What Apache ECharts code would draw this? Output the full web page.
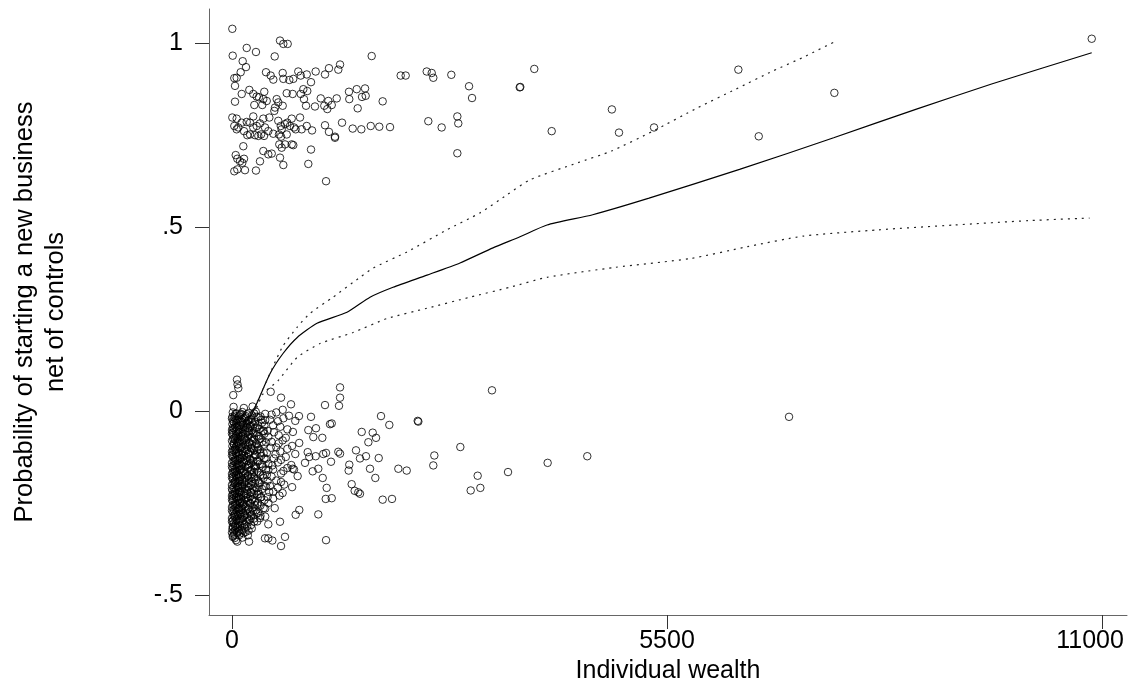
<!DOCTYPE html>
<html>
<head>
<meta charset="utf-8">
<script src="https://cdn.jsdelivr.net/npm/echarts@6/dist/echarts.min.js"></script>
<style>
html,body{margin:0;padding:0;background:#fff;}
#chart{width:1129px;height:681px;}
</style>
</head>
<body>
<div id="chart"></div>
<script>
// ---- Data ----
const xTickValues = [0, 5500, 11000];
const xTickLabels = ['0', '5500', '11000'];
const yTickValues = [-0.5, 0, 0.5, 1];
const yTickLabels = ['-.5', '0', '.5', '1'];
const xTitle = 'Individual wealth';
const yTitle = 'Probability of starting a new business\nnet of controls';

// Upper group of observations (starters): [wealth, probability net of controls]
const upperObs = [
[4,1.038],[607,1.006],[649,0.997],[704,0.997],[9,0.965],[186,0.986],[303,0.975],[540,0.963],[1766,0.964],[135,0.950],
[177,0.934],[110,0.920],[29,0.904],[59,0.905],[430,0.920],[489,0.911],[522,0.900],[641,0.918],[649,0.902],[725,0.899],
[775,0.902],[838,0.922],[869,0.911],[945,0.914],[999,0.893],[1058,0.922],[1176,0.914],[1226,0.931],[1344,0.927],[1366,0.941],
[2133,0.911],[2196,0.911],[2462,0.922],[2525,0.918],[2545,0.905],[2773,0.913],[2997,0.882],[3035,0.850],[38,0.883],[123,0.861],
[219,0.872],[269,0.861],[312,0.854],[341,0.852],[396,0.847],[439,0.842],[408,0.867],[38,0.840],[282,0.831],[383,0.831],
[565,0.847],[585,0.838],[544,0.824],[535,0.815],[641,0.829],[692,0.863],[767,0.861],[869,0.861],[902,0.874],[952,0.869],
[910,0.847],[936,0.829],[1049,0.827],[1122,0.849],[1167,0.829],[1205,0.820],[1218,0.842],[1261,0.831],[1324,0.849],[1479,0.867],
[1483,0.847],[1577,0.874],[1589,0.822],[1644,0.853],[1690,0.856],[1682,0.876],[1905,0.841],[4,0.797],[59,0.794],[29,0.774],
[59,0.765],[80,0.770],[123,0.783],[186,0.785],[228,0.783],[269,0.800],[152,0.760],[193,0.749],[228,0.751],[269,0.770],
[312,0.774],[354,0.781],[396,0.794],[291,0.749],[333,0.747],[367,0.751],[405,0.747],[472,0.797],[417,0.770],[459,0.760],
[522,0.753],[585,0.788],[616,0.774],[628,0.765],[670,0.779],[699,0.783],[733,0.774],[755,0.794],[860,0.797],[784,0.770],
[805,0.765],[881,0.765],[945,0.774],[1012,0.762],[594,0.751],[620,0.745],[692,0.751],[143,0.719],[598,0.724],[628,0.715],
[670,0.724],[755,0.724],[775,0.722],[999,0.710],[1176,0.776],[1226,0.758],[1302,0.745],[1302,0.742],[1391,0.783],[1526,0.767],
[1635,0.765],[1754,0.774],[1862,0.772],[1998,0.771],[2482,0.787],[2651,0.770],[2849,0.800],[2861,0.781],[2849,0.700],[47,0.695],
[67,0.685],[101,0.678],[152,0.685],[130,0.674],[29,0.651],[67,0.656],[164,0.654],[303,0.653],[354,0.678],[396,0.706],
[459,0.697],[502,0.699],[607,0.688],[649,0.668],[965,0.671],[1189,0.624],[3638,0.879],[3645,0.880],[3822,0.929],[4042,0.760],
[4803,0.819],[4893,0.756],[5336,0.770],[6402,0.927],[6660,0.746],[7616,0.864],[10870,1.011]
];

// Lower group, sparse part
const lowerSparse = [
[63,0.085],[70,0.072],[80,0.062],[16,0.043],[1366,0.064],[1366,0.036],[1353,0.014],[489,0.052],[620,0.036],[746,0.018],
[641,0.003],[1176,0.016],[847,-0.014],[999,-0.016],[1884,-0.014],[1989,-0.038],[2348,-0.027],[2356,-0.029],[1239,-0.036],[1261,-0.034],
[1062,-0.047],[965,-0.052],[1640,-0.057],[1779,-0.059],[1724,-0.085],[1821,-0.073],[1028,-0.071],[1142,-0.073],[2887,-0.098],[2558,-0.121],
[2545,-0.148],[1568,-0.107],[1618,-0.129],[1694,-0.123],[1855,-0.128],[2103,-0.157],[2209,-0.162],[1745,-0.157],[1812,-0.182],[1483,-0.146],
[1475,-0.162],[1252,-0.138],[1154,-0.117],[1189,-0.114],[1344,-0.111],[1366,-0.116],[1058,-0.123],[957,-0.112],[977,-0.125],[923,-0.141],
[1020,-0.164],[1091,-0.157],[1147,-0.182],[1197,-0.209],[1261,-0.237],[1185,-0.239],[1513,-0.199],[1551,-0.217],[1597,-0.221],[1618,-0.225],
[1905,-0.241],[2023,-0.239],[1091,-0.281],[1189,-0.351],[851,-0.269],[805,-0.282],[670,-0.342],[620,-0.367],[607,-0.301],[767,-0.157],
[784,-0.159],[510,-0.352],[459,-0.346],[417,-0.346],[9,-0.342],[51,-0.351],[67,-0.355],[215,-0.355],[459,-0.308],[354,-0.291],
[9,-0.314],[3287,0.056],[3106,-0.176],[3490,-0.166],[3991,-0.141],[4492,-0.123],[3018,-0.216],[3140,-0.209],[7043,-0.016]
];

// Lower group, dense core near zero wealth (estimated from the solid mass)
const lowerDense = [
[20,0.011],[150,0.008],[260,0.012],
[10,-0.004],[60,-0.007],[130,-0.003],[210,-0.006],[300,-0.002],[420,-0.008],[560,-0.004],
[0,-0.021],[30,-0.018],[80,-0.023],[150,-0.019],[240,-0.022],[330,-0.017],[480,-0.024],[650,-0.020],
[5,-0.036],[55,-0.033],[110,-0.038],[190,-0.034],[270,-0.037],[380,-0.032],[520,-0.039],
[0,-0.052],[25,-0.048],[95,-0.051],[170,-0.047],[250,-0.053],[350,-0.049],[450,-0.054],[700,-0.050],
[10,-0.066],[70,-0.063],[140,-0.068],[220,-0.064],[310,-0.067],[410,-0.062],[590,-0.066],
[0,-0.081],[40,-0.078],[100,-0.083],[180,-0.079],[260,-0.082],[340,-0.077],[500,-0.084],[640,-0.080],
[5,-0.096],[60,-0.093],[130,-0.098],[200,-0.094],[290,-0.097],[400,-0.092],[560,-0.099],[760,-0.095],
[0,-0.111],[30,-0.108],[85,-0.113],[160,-0.109],[230,-0.112],[320,-0.107],[440,-0.114],[610,-0.110],
[15,-0.126],[70,-0.123],[120,-0.128],[190,-0.124],[270,-0.127],[370,-0.122],[530,-0.129],[680,-0.125],
[0,-0.141],[35,-0.138],[95,-0.143],[150,-0.139],[240,-0.142],[330,-0.137],[460,-0.144],[580,-0.140],
[8,-0.156],[60,-0.153],[120,-0.158],[200,-0.154],[290,-0.157],[390,-0.152],[520,-0.159],[700,-0.155],
[0,-0.171],[30,-0.168],[80,-0.173],[170,-0.169],[250,-0.172],[340,-0.167],[440,-0.174],[620,-0.170],
[12,-0.186],[65,-0.183],[130,-0.188],[210,-0.184],[300,-0.187],[400,-0.182],[560,-0.189],
[0,-0.201],[40,-0.198],[100,-0.203],[160,-0.199],[240,-0.202],[350,-0.197],[480,-0.204],[660,-0.200],
[5,-0.216],[55,-0.213],[120,-0.218],[190,-0.214],[280,-0.217],[380,-0.212],[520,-0.219],
[0,-0.231],[25,-0.228],[85,-0.233],[150,-0.229],[230,-0.232],[320,-0.227],[450,-0.234],[600,-0.230],
[10,-0.246],[70,-0.243],[130,-0.248],[200,-0.244],[290,-0.247],[410,-0.242],
[0,-0.261],[35,-0.258],[95,-0.263],[170,-0.259],[260,-0.262],[360,-0.257],[540,-0.264],
[15,-0.276],[60,-0.273],[140,-0.278],[230,-0.274],[330,-0.277],
[0,-0.291],[40,-0.288],[110,-0.293],[190,-0.289],[280,-0.292],[420,-0.287],
[20,-0.306],[80,-0.303],[160,-0.308],
[5,-0.321],[60,-0.318],[130,-0.323],[250,-0.319],
[30,-0.336],[100,-0.333],[200,-0.338],
[35,-0.013],[100,-0.011],[175,-0.014],[255,-0.012],[360,-0.015],[500,-0.010],[720,-0.013],
[15,-0.028],[65,-0.026],[120,-0.029],[205,-0.027],[290,-0.030],[420,-0.025],[580,-0.028],[800,-0.027],
[40,-0.043],[85,-0.041],[145,-0.044],[225,-0.042],[310,-0.045],[410,-0.040],[610,-0.043],
[15,-0.058],[55,-0.056],[120,-0.059],[195,-0.057],[285,-0.060],[390,-0.055],[530,-0.058],[770,-0.057],
[30,-0.073],[95,-0.071],[165,-0.074],[245,-0.072],[360,-0.075],[460,-0.070],[680,-0.073],
[20,-0.088],[70,-0.086],[140,-0.089],[220,-0.087],[310,-0.090],[430,-0.085],[590,-0.088],[850,-0.087],
[40,-0.103],[100,-0.101],[170,-0.104],[250,-0.102],[350,-0.105],[490,-0.100],[700,-0.103],
[15,-0.118],[55,-0.116],[130,-0.119],[205,-0.117],[290,-0.120],[400,-0.115],[550,-0.118],[800,-0.117],
[45,-0.133],[95,-0.131],[160,-0.134],[230,-0.132],[320,-0.135],[430,-0.130],[620,-0.133],
[20,-0.148],[70,-0.146],[125,-0.149],[200,-0.147],[280,-0.150],[380,-0.145],[510,-0.148],[750,-0.147],
[40,-0.163],[100,-0.161],[150,-0.164],[230,-0.162],[320,-0.165],[460,-0.160],[650,-0.163],
[15,-0.178],[55,-0.176],[110,-0.179],[200,-0.177],[280,-0.180],[390,-0.175],[500,-0.178],[830,-0.177],
[35,-0.193],[90,-0.191],[160,-0.194],[250,-0.192],[340,-0.195],[450,-0.190],[620,-0.193],
[20,-0.208],[75,-0.206],[130,-0.209],[210,-0.207],[310,-0.210],[430,-0.205],[580,-0.208],[760,-0.207],
[40,-0.223],[95,-0.221],[160,-0.224],[240,-0.222],[340,-0.225],[470,-0.220],[640,-0.223],
[15,-0.238],[55,-0.236],[115,-0.239],[180,-0.237],[260,-0.240],[360,-0.235],[520,-0.238],
[45,-0.253],[105,-0.251],[150,-0.254],[230,-0.252],[320,-0.255],[460,-0.250],
[20,-0.268],[75,-0.266],[125,-0.269],[200,-0.267],[300,-0.270],[420,-0.265],
[30,-0.283],[85,-0.281],[160,-0.284],[250,-0.282],[360,-0.285],
[10,-0.298],[60,-0.296],[135,-0.299],[220,-0.297],[320,-0.300],
[40,-0.313],[105,-0.311],[190,-0.314],
[20,-0.328],[85,-0.326],[170,-0.329],
[45,-0.008],[115,-0.008],[190,-0.009],[280,-0.007],
[5,-0.016],[90,-0.015],[165,-0.017],[310,-0.016],
[50,-0.024],[130,-0.023],[215,-0.025],[370,-0.024],
[25,-0.031],[100,-0.030],[180,-0.032],[250,-0.031],
[70,-0.039],[140,-0.038],[235,-0.040],[330,-0.039],
[10,-0.046],[60,-0.045],[200,-0.047],[290,-0.046],
[45,-0.054],[135,-0.053],[215,-0.055],[400,-0.054],
[0,-0.061],[85,-0.060],[160,-0.062],[265,-0.061],
[50,-0.069],[115,-0.068],[205,-0.070],[340,-0.069],
[15,-0.076],[75,-0.075],[150,-0.077],[280,-0.076],
[60,-0.084],[125,-0.083],[215,-0.085],[380,-0.084],
[25,-0.091],[90,-0.090],[165,-0.092],[250,-0.091],
[45,-0.099],[115,-0.098],[240,-0.100],[330,-0.099],
[10,-0.106],[60,-0.105],[185,-0.107],[280,-0.106],
[50,-0.114],[130,-0.113],[210,-0.115],[360,-0.114],
[0,-0.121],[90,-0.120],[155,-0.122],[300,-0.121],
[40,-0.129],[100,-0.128],[225,-0.130],[410,-0.129],
[20,-0.136],[70,-0.135],[185,-0.137],[270,-0.136],
[55,-0.144],[130,-0.143],[215,-0.145],[350,-0.144],
[0,-0.151],[90,-0.150],[170,-0.152],[300,-0.151],
[35,-0.159],[105,-0.158],[245,-0.160],[430,-0.159],
[15,-0.166],[60,-0.165],[135,-0.167],[280,-0.166],
[50,-0.174],[115,-0.173],[205,-0.175],[360,-0.174],
[0,-0.181],[90,-0.180],[165,-0.182],[240,-0.181],
[45,-0.189],[100,-0.188],[185,-0.190],[330,-0.189],
[20,-0.196],[70,-0.195],[215,-0.197],[290,-0.196],
[60,-0.204],[130,-0.203],[200,-0.205],[410,-0.204],
[0,-0.211],[85,-0.210],[160,-0.212],[260,-0.211],
[35,-0.219],[100,-0.218],[235,-0.220],[330,-0.219],
[10,-0.226],[60,-0.225],[175,-0.227],[280,-0.226],
[50,-0.234],[115,-0.233],[200,-0.235],[370,-0.234],
[0,-0.241],[85,-0.240],[155,-0.242],[250,-0.241],
[40,-0.249],[100,-0.248],[225,-0.250],[330,-0.249],
[15,-0.256],[65,-0.255],[135,-0.257],[290,-0.256],
[55,-0.264],[120,-0.263],[210,-0.265],[400,-0.264],
[0,-0.271],[90,-0.270],[170,-0.272],[270,-0.271],
[40,-0.279],[105,-0.278],[195,-0.280],[310,-0.279],
[20,-0.286],[70,-0.285],[150,-0.287],[240,-0.286],
[55,-0.294],[125,-0.293],[220,-0.295],
[0,-0.301],[95,-0.300],[180,-0.302],[280,-0.301],
[45,-0.309],[130,-0.308],[240,-0.310],
[15,-0.316],[75,-0.315],[160,-0.317],
[40,-0.324],[110,-0.323],[210,-0.325],
[0,-0.331],[65,-0.330],[145,-0.332],
[15,-0.339],[90,-0.338],
[35,-0.345],[130,-0.344]
];

// Fitted line and its confidence band
const fitX = [30, 150, 253, 480, 645, 822, 1075, 1454, 1745, 2036, 2466, 2883, 3300, 3641, 3983, 4561, 5273, 6417, 7607, 8654, 9604, 10870];
const fitY = [-0.09, -0.04, -0.008, 0.101, 0.156, 0.199, 0.238, 0.268, 0.309, 0.336, 0.369, 0.402, 0.443, 0.473, 0.505, 0.533, 0.578, 0.656, 0.742, 0.820, 0.888, 0.973];
const upperX = [30, 150, 265, 632, 822, 986, 1277, 1618, 1783, 2213, 2718, 3136, 3477, 3768, 4370, 4798, 5323, 5892, 6369, 6844, 7226, 7629];
const upperY = [-0.07, -0.03, 0.0, 0.172, 0.227, 0.265, 0.309, 0.363, 0.388, 0.432, 0.492, 0.538, 0.587, 0.628, 0.674, 0.706, 0.760, 0.824, 0.874, 0.924, 0.961, 1.004];
const lowerX = [30, 200, 392, 582, 822, 1113, 1530, 1960, 2466, 3009, 3515, 3983, 4843, 5797, 6512, 7226, 8177, 9129, 10077, 10842];
const lowerY = [-0.11, -0.05, 0.046, 0.082, 0.145, 0.183, 0.213, 0.251, 0.279, 0.309, 0.336, 0.363, 0.390, 0.414, 0.446, 0.475, 0.492, 0.505, 0.517, 0.524];

// ---- Chart ----
const FONT = '"Liberation Sans", Arial, Helvetica, sans-serif';
const zip = (a, b) => a.map((v, i) => [v, b[i]]);
const chart = echarts.init(document.getElementById('chart'), null, {renderer: 'canvas'});

const scatterStyle = {
  type: 'scatter',
  symbol: 'circle',
  symbolSize: 7.5,
  itemStyle: {color: 'rgba(0,0,0,0)', borderColor: '#000', borderWidth: 1},
  silent: true,
  z: 2
};

chart.setOption({
  animation: false,
  backgroundColor: '#fff',
  grid: {left: 209, right: 2, top: 9, bottom: 66, containLabel: false, outerBoundsMode: 'none'},
  xAxis: {
    type: 'value',
    min: -290.8,
    max: 11316,
    name: xTitle,
    nameLocation: 'middle',
    nameGap: 40,
    nameTextStyle: {fontFamily: FONT, fontSize: 25, color: '#000'},
    splitLine: {show: false},
    axisLine: {show: true, onZero: false, lineStyle: {color: '#666', width: 1}},
    axisTick: {show: true, customValues: xTickValues, length: 14, lineStyle: {color: '#333', width: 1}},
    axisLabel: {
      customValues: xTickValues,
      margin: 14,
      hideOverlap: false,
      fontFamily: FONT, fontSize: 25, color: '#000',
      formatter: v => {
        const i = xTickValues.indexOf(v);
        return i === xTickLabels.length - 1 ? '{last|' + xTickLabels[i] + '}' : xTickLabels[i];
      },
      rich: {last: {fontFamily: FONT, fontSize: 25, color: '#000', padding: [0, 24, 0, 0]}}
    }
  },
  yAxis: {
    type: 'value',
    min: -0.5543,
    max: 1.0918,
    name: yTitle,
    nameLocation: 'middle',
    nameRotate: 90,
    nameGap: 138,
    nameTextStyle: {fontFamily: FONT, fontSize: 25.5, color: '#000', lineHeight: 31, align: 'center'},
    splitLine: {show: false},
    axisLine: {show: true, onZero: false, lineStyle: {color: '#666', width: 1}},
    axisTick: {show: true, customValues: yTickValues, length: 14, lineStyle: {color: '#333', width: 1}},
    axisLabel: {
      customValues: yTickValues,
      margin: 26,
      fontFamily: FONT, fontSize: 25, color: '#000',
      formatter: v => yTickLabels[yTickValues.indexOf(v)]
    }
  },
  series: [
    Object.assign({name: 'upper', data: upperObs}, scatterStyle),
    Object.assign({name: 'lowerSparse', data: lowerSparse}, scatterStyle),
    Object.assign({name: 'lowerDense', data: lowerDense}, scatterStyle),
    {type: 'line', name: 'fit', data: zip(fitX, fitY), showSymbol: false, smooth: 0.2, z: 3,
     lineStyle: {color: '#000', width: 1.2, type: 'solid'}},
    {type: 'line', name: 'upperCI', data: zip(upperX, upperY), showSymbol: false, smooth: 0.2, z: 3,
     lineStyle: {color: '#222', width: 1.2, type: [2, 5]}},
    {type: 'line', name: 'lowerCI', data: zip(lowerX, lowerY), showSymbol: false, smooth: 0.2, z: 3,
     lineStyle: {color: '#222', width: 1.2, type: [2, 5]}}
  ]
});
</script>
</body>
</html>
